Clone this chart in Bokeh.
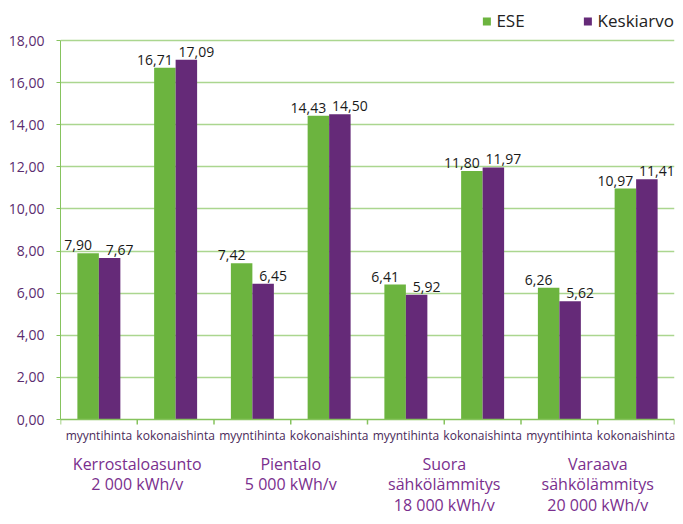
import numpy as np
from bokeh.plotting import figure
from bokeh.models import (Range1d, FixedTicker, Legend, LegendItem, Span, ColumnDataSource)
from bokeh.core.properties import value
from bokeh.embed import file_html
from bokeh.resources import INLINE

# ---- data ----
groups = ["Kerrostaloasunto\n2 000 kWh/v", "Pientalo\n5 000 kWh/v",
          "Suora\nsähkölämmitys\n18 000 kWh/v", "Varaava\nsähkölämmitys\n20 000 kWh/v"]
subcats = ["myyntihinta", "kokonaishinta"]
ese = [7.90, 16.71, 7.42, 14.43, 6.41, 11.80, 6.26, 10.97]
keskiarvo = [7.67, 17.09, 6.45, 14.50, 5.92, 11.97, 5.62, 11.41]
y_ticks = [0, 2, 4, 6, 8, 10, 12, 14, 16, 18]
series_names = ["ESE", "Keskiarvo"]

GREEN = "#6cb43f"
PURPLE = "#652a78"
GRID = "#abd68f"
AXIS = "#86c35e"
FONT = "Open Sans"

n = len(ese)
labels = [subcats[i % 2] for i in range(n)]
centers = np.arange(n) + 0.5
bw = 0.28

def fmt(v):
    return f"{v:.2f}".replace(".", ",")

src = ColumnDataSource(dict(
    xg=centers - bw / 2, xp=centers + bw / 2,
    ese=ese, kes=keskiarvo,
    ese_t=[fmt(v) for v in ese], kes_t=[fmt(v) for v in keskiarvo],
))

W, H = 675, 516
top_px, zero_px, y18_px = 9, 419, 40     # canvas px of frame top, value 0, value 18
ppu = (zero_px - y18_px) / 18.0
ymax = 18 + (y18_px - top_px) / ppu
ymin = -(H - zero_px) / ppu

p = figure(width=W, height=H, output_backend="svg", toolbar_location=None,
           x_axis_location=None,
           x_range=Range1d(0, n), y_range=Range1d(ymin, ymax),
           min_border_left=60, min_border_right=1, min_border_top=top_px,
           min_border_bottom=0)
p.outline_line_color = None
p.background_fill_color = "white"

r1 = p.vbar(x="xg", top="ese", width=bw, source=src, fill_color=GREEN, line_color=None)
r2 = p.vbar(x="xp", top="kes", width=bw, source=src, fill_color=PURPLE, line_color=None)

p.text(x="xg", y="ese", text="ese_t", source=src, x_offset=-10, y_offset=-3,
       text_align="center", text_baseline="bottom", text_font=value(FONT),
       text_font_size="14px", text_color="#1a1a1a")
p.text(x="xp", y="kes", text="kes_t", source=src, x_offset=10, y_offset=-3,
       text_align="center", text_baseline="bottom", text_font=value(FONT),
       text_font_size="14px", text_color="#1a1a1a")

# y axis
p.yaxis.ticker = FixedTicker(ticks=y_ticks)
p.yaxis.bounds = (0, 18)
p.yaxis.major_label_overrides = {t: fmt(t) for t in y_ticks}
p.yaxis.major_label_text_font = FONT
p.yaxis.major_label_text_font_size = "14px"
p.yaxis.major_label_text_color = "#5b2c6f"
p.yaxis.axis_line_color = AXIS
p.yaxis.major_tick_line_color = AXIS
p.yaxis.major_tick_out = 4
p.yaxis.major_tick_in = 0
p.yaxis.minor_tick_line_color = None
p.yaxis.major_label_standoff = 12

p.xgrid.grid_line_color = None
p.ygrid.ticker = FixedTicker(ticks=y_ticks[1:])
p.ygrid.grid_line_color = GRID
p.ygrid.grid_line_width = 1.5

# category axis drawn at value 0
p.add_layout(Span(location=0, dimension="width", line_color=AXIS, line_width=1.5))
p.ray(x=list(range(n + 1)), y=[0] * (n + 1), length=5, length_units="screen",
      angle=-np.pi / 2, line_color=AXIS, line_width=1.5)
p.text(x=list(centers), y=[0] * n, text=labels, y_offset=7,
       text_align="center", text_baseline="top", text_font=value(FONT),
       text_font_size="12px", text_color="#4a2a5a")
p.text(x=[2 * gi + 1 for gi in range(len(groups))], y=[0] * len(groups), text=groups,
       y_offset=33, text_align="center", text_baseline="top", text_font=value(FONT),
       text_font_size="16px", text_color="#7a2f8e", text_line_height=0.95)

legend = Legend(items=[LegendItem(label=value(series_names[0]), renderers=[r1]),
                       LegendItem(label=value(series_names[1]), renderers=[r2])],
                orientation="horizontal", location="top_right",
                glyph_width=10, glyph_height=10, label_standoff=5, spacing=58,
                padding=0, margin=0, border_line_color=None, background_fill_alpha=0,
                label_text_font=FONT, label_text_font_size="17px", label_text_color="#222222",
                label_height=10)
p.add_layout(legend)

open("out.html", "w").write(file_html(p, INLINE))
